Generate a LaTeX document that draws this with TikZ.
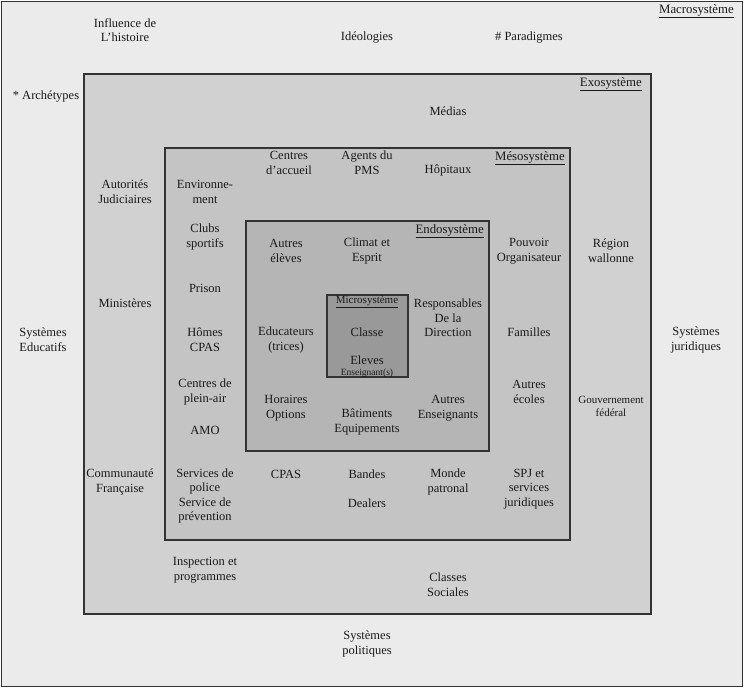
\documentclass[tikz,border=0pt]{standalone}
\usepackage{fontspec}
\setmainfont{Liberation Serif}
\begin{document}
\begin{tikzpicture}[x=1pt,y=-1pt,
  lbl/.style={align=center,inner sep=0pt,font=\fontsize{12.5}{14.6}\selectfont,text=black!90},
  smalllbl/.style={align=center,inner sep=0pt,font=\fontsize{11}{13}\selectfont,text=black!90},
  ttl/.style={anchor=north east,inner sep=0pt,font=\fontsize{12.8}{15}\selectfont,text=black!90},
  sysbox/.style={draw=black!80,line width=1.3pt}]
\useasboundingbox (0,0) rectangle (744,688);
% boxes
\draw[sysbox,fill=black!8] (1.5,1.5) rectangle (742.5,686.5);
\draw[sysbox,fill=black!18] (84,74) rectangle (651,614);
\draw[sysbox,fill=black!23] (165,148) rectangle (570,540);
\draw[sysbox,fill=black!29] (246,221) rectangle (489,451);
\draw[sysbox,fill=black!40] (327,295) rectangle (408,377);
% titles
\node[ttl] (tmacro) at (734,4) {\underline{Macrosystème}};
\node[ttl] (texo) at (642,77) {\underline{Exosystème}};
\node[ttl] (tmeso) at (565,151) {\underline{Mésosystème}};
\node[ttl] (tendo) at (484,224) {\underline{Endosystème}};
\node[smalllbl] (tmicro) at (367,302) {\underline{Microsystème}};
% macro
\node[lbl] (hist) at (125,30) {Influence de\\L’histoire};
\node[lbl] (ideo) at (367,38) {Idéologies};
\node[lbl] (para) at (529,38) {\# Paradigmes};
\node[lbl] (arch) at (46,97) {* Archétypes};
\node[lbl] (sysedu) at (43,340) {Systèmes\\Educatifs};
\node[lbl] (sysjur) at (696,340) {Systèmes\\juridiques};
\node[lbl] (syspol) at (367,644) {Systèmes\\politiques};
% exo
\node[lbl] (medias) at (448,111) {Médias};
\node[lbl] (autor) at (125,192) {Autorités\\Judiciaires};
\node[lbl] (minis) at (125,303) {Ministères};
\node[lbl] (commu) at (120,482) {Communauté\\Française};
\node[lbl] (region) at (611,251) {Région\\wallonne};
\node[smalllbl] (gouv) at (611,406) {Gouvernement\\fédéral};
\node[lbl] (inspec) at (205,570) {Inspection et\\programmes};
\node[lbl] (classes) at (448,585) {Classes\\Sociales};
% meso
\node[lbl] (caccueil) at (289,163) {Centres\\d’accueil};
\node[lbl] (pms) at (367,163) {Agents du\\PMS};
\node[lbl] (hopit) at (448,170) {Hôpitaux};
\node[lbl] (envir) at (205,192) {Environne-\\ment};
\node[lbl] (clubs) at (205,237) {Clubs\\sportifs};
\node[lbl] (prison) at (205,288) {Prison};
\node[lbl] (homes) at (205,340) {Hômes\\CPAS};
\node[lbl] (plein) at (205,392) {Centres de\\plein-air};
\node[lbl] (amo) at (205,430) {AMO};
\node[lbl] (pouvoir) at (529,251) {Pouvoir\\Organisateur};
\node[lbl] (famil) at (529,332) {Familles};
\node[lbl] (aecoles) at (529,392) {Autres\\écoles};
\node[lbl] (spj) at (529,489) {SPJ et\\services\\juridiques};
\node[lbl] (police) at (205,496) {Services de\\police\\Service de\\prévention};
\node[lbl] (cpas) at (286,474) {CPAS};
\node[lbl] (bandes) at (367,474) {Bandes};
\node[lbl] (dealers) at (367,503) {Dealers};
\node[lbl] (monde) at (448,482) {Monde\\patronal};
% endo
\node[lbl] (aeleves) at (286,251) {Autres\\élèves};
\node[lbl] (climat) at (367,251) {Climat et\\Esprit};
\node[lbl] (resp) at (448,318) {Responsables\\De la\\Direction};
\node[lbl] (educ) at (286,340) {Educateurs\\(trices)};
\node[lbl] (horaires) at (286,408) {Horaires\\Options};
\node[lbl] (batim) at (367,422) {Bâtiments\\Equipements};
\node[lbl] (aens) at (448,408) {Autres\\Enseignants};
% micro
\node[lbl] (classe) at (367,332) {Classe};
\node[lbl] (eleves) at (367,360) {Eleves};
\node[smalllbl,font=\fontsize{9.5}{11}\selectfont] (ens) at (367,373.5) {Enseignant(s)};
\end{tikzpicture}
\end{document}
